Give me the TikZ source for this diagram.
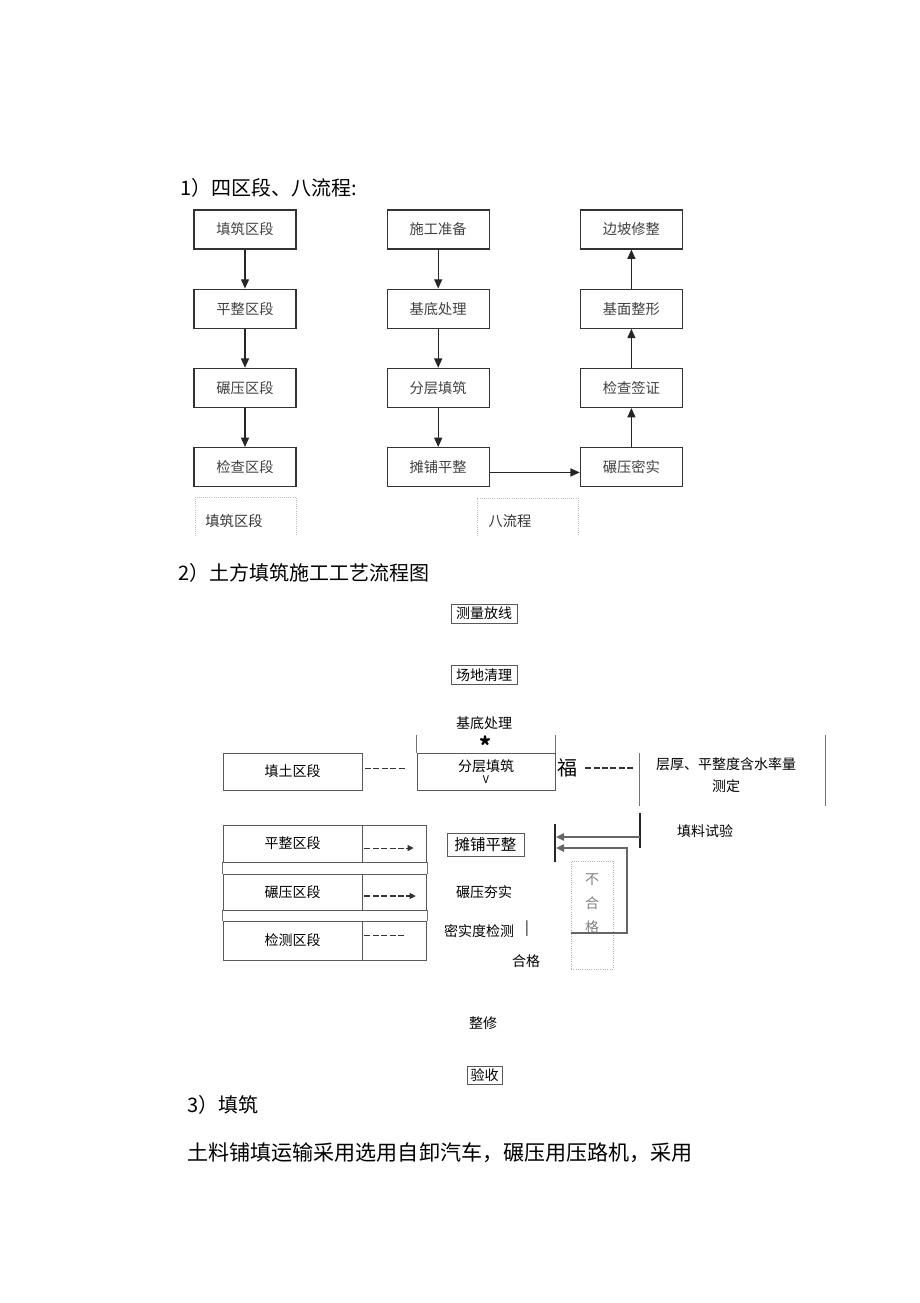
\documentclass[tikz,border=0pt]{standalone}
\usepackage{fontspec}
\setmainfont{Noto Sans CJK SC}
\usetikzlibrary{arrows.meta}
\usetikzlibrary{positioning}

\begin{document}
\begin{tikzpicture}[x=0.75pt, y=-0.75pt,
    stagebox/.style={draw=black!80, line width=0.9pt, minimum width=76.5pt, minimum height=29.25pt, inner sep=0pt, text=black!75, font=\fontsize{10.7pt}{12pt}\selectfont},
    capbox/.style={inner sep=0pt, text=black!80, font=\fontsize{10.7pt}{12pt}\selectfont},
    capframe/.style={draw=black!25, densely dotted, line width=0.6pt},
    flow/.style={draw=black!85, line width=1pt, -{Triangle[length=7pt, width=6pt]}},
    head/.style={anchor=west, inner sep=0pt, font=\fontsize{15pt}{18pt}\selectfont},
    small/.style={inner sep=0pt, font=\fontsize{10.5pt}{12pt}\selectfont},
    thinbox/.style={draw=black!65, line width=0.6pt, inner sep=0pt, font=\fontsize{10.5pt}{12pt}\selectfont},
    frameline/.style={draw=black!55, line width=0.6pt},
    dashline/.style={draw=black!80, line width=0.8pt, dash pattern=on 4.5pt off 1.8pt},
    feed/.style={draw=black!60, line width=1.1pt, -{Triangle[length=6pt, width=5.5pt]}},
    bar/.style={draw=black!85, line width=1.5pt},
    node distance=29.25pt and 67.5pt]
    \useasboundingbox (0,0) rectangle (920,1303);

    \node[head] (title1) at (180,188) {1）四区段、八流程:};
    \node[stagebox] (fillzone) at (245,229.5) {填筑区段};
    \node[stagebox, below=of fillzone] (flatzone) {平整区段};
    \node[stagebox, below=of flatzone] (rollzone) {碾压区段};
    \node[stagebox, below=of rollzone] (checkzone) {检查区段};
    \node[stagebox, right=of fillzone] (prep) {施工准备};
    \node[stagebox, below=of prep] (base) {基底处理};
    \node[stagebox, below=of base] (layer) {分层填筑};
    \node[stagebox, below=of layer] (spread) {摊铺平整};
    \node[stagebox, right=of prep] (slope) {边坡修整};
    \node[stagebox, below=of slope] (face) {基面整形};
    \node[stagebox, below=of face] (sign) {检查签证};
    \node[stagebox, below=of sign] (compact) {碾压密实};

    \draw[flow] (fillzone) -- (flatzone);
    \draw[flow] (flatzone) -- (rollzone);
    \draw[flow] (rollzone) -- (checkzone);
    \draw[flow] (prep) -- (base);
    \draw[flow] (base) -- (layer);
    \draw[flow] (layer) -- (spread);
    \draw[flow] ([yshift=-4pt]spread.east) -- ([yshift=-4pt]compact.west);
    \draw[flow] (compact) -- (sign);
    \draw[flow] (sign) -- (face);
    \draw[flow] (face) -- (slope);

    \node[capbox] (cap4) at (234,521) {填筑区段};
    \node[capbox] (cap8) at (510,521) {八流程};
    \draw[capframe] (195,536) |- (296,497) -- (296,536);
    \draw[capframe] (477,536) |- (578,498) -- (578,536);

    \node[head] (title2) at (178,573) {2）土方填筑施工工艺流程图};
    \node[thinbox, minimum width=49.5pt, minimum height=14.25pt] (survey) at (484,613.5) {测量放线};
    \node[thinbox, minimum width=49.5pt, minimum height=14.25pt] (clear) at (484,675) {场地清理};
    \node[small] (basetxt) at (484,723) {基底处理};
    \node[thinbox, minimum width=103.5pt, minimum height=27.75pt, align=center] (layerbox) at (486,771.5) {分层填筑\\[-3pt]{\fontsize{8pt}{8pt}\selectfont V}};
    \draw[frameline] (layerbox.north west) -- ++(0,-18) (layerbox.north east) -- ++(0,-18);
    \node[inner sep=0pt, font=\fontsize{17pt}{17pt}\selectfont\bfseries] (star) at (485,745) {*};
    \node[thinbox, minimum width=104.25pt, minimum height=27.75pt] (fillsoil) at (292.5,771.5) {填土区段};
    \draw[dashline, shorten <=2pt, shorten >=9pt] ([yshift=2.6pt]fillsoil.east) -- ([yshift=2.6pt]layerbox.west);
    \node[inner sep=0pt, font=\fontsize{15pt}{15pt}\selectfont] (fu) at (567,768) {福};
    \node[small, align=center] (measure) at (726,775) {层厚、平整度含水率量\\[5pt]测定};
    \coordinate (measl) at (639,768);
    \draw[dashline, shorten <=6pt, shorten >=3pt] (fu.east) -- (measl);
    \draw[frameline] (639,753) -- (639,806);
    \draw[frameline] (825,735) -- (825,806);

    \node[small] (trial) at (705,831) {填料试验};
    \draw[bar] (640,813) -- (640,848);
    \draw[bar] (555,824) -- (555,862);
    \coordinate (trialbar) at (640,837);
    \coordinate (stop1) at (556,837);
    \coordinate (stop2) at (556,848);
    \coordinate (bend) at (627,848);
    \coordinate (failcut) at (592,933);
    \node[draw=black!30, densely dotted, line width=0.7pt, minimum width=31.5pt, minimum height=81pt, inner sep=0pt] (fail) at (592,915) {};
    \node[inner sep=0pt, align=center, text=black!50, font=\fontsize{10.5pt}{18pt}\selectfont] (failtxt) at (592,904) {不\\合\\格};
    \draw[feed] (trialbar) -- (stop1);
    \draw[feed] (fail.west |- failcut) -| (bend) -- (stop2);

    \node[thinbox, minimum width=104.25pt, minimum height=27.75pt] (flatsec) at (292.5,843.5) {平整区段};
    \node[thinbox, minimum width=48pt, minimum height=27.75pt, right=0pt of flatsec] (flatcell) {};
    \node[thinbox, minimum width=104.25pt, minimum height=27pt] (rollsec) at (292.5,892) {碾压区段};
    \node[thinbox, minimum width=48pt, minimum height=27pt, right=0pt of rollsec] (rollcell) {};
    \node[thinbox, minimum width=104.25pt, minimum height=29.25pt] (testsec) at (292.5,940.5) {检测区段};
    \node[thinbox, minimum width=48pt, minimum height=29.25pt, right=0pt of testsec] (testcell) {};
    \draw[frameline] (flatsec.south west) -- (rollsec.north west) (flatcell.south east) -- (rollcell.north east);
    \draw[frameline] (rollsec.south west) -- (testsec.north west) (rollcell.south east) -- (testcell.north east);

    \node[thinbox, minimum width=57.75pt, minimum height=17.25pt, font=\fontsize{11.6pt}{13pt}\selectfont] (spread2) at (485.5,844.5) {摊铺平整};
    \node[small] (ram) at (484,892) {碾压夯实};
    \node[small] (density) at (479,931) {密实度检测};
    \node[small] (tick) at (527,929) {|};
    \node[small] (pass) at (526,961) {合格};
    \node[small] (repair) at (483,1023) {整修};
    \node[thinbox, minimum width=26.25pt, minimum height=13.5pt] (accept) at (484.5,1075) {验收};

    \draw[dashline, -{Triangle[length=4.5pt, width=4.5pt]}, shorten <=1.5pt, shorten >=24.75pt] ([yshift=-3.4pt]flatsec.east) -- ([yshift=-3.4pt]flatsec.east -| spread2.west);
    \draw[dashline, -{Triangle[length=4.5pt, width=4.5pt]}, shorten <=1.5pt, shorten >=30pt] ([yshift=-3pt]rollsec.east) -- ([yshift=-3pt]rollsec.east -| ram.west);
    \draw[dashline, shorten <=1.5pt, shorten >=28.5pt] ([yshift=4pt]testsec.east) -- ([yshift=4pt]testsec.east -| density.west);

    \node[head] (title3) at (187,1105) {3）填筑};
    \node[anchor=west, inner sep=0pt, font=\fontsize{15.8pt}{18pt}\selectfont] (para) at (187,1153) {土料铺填运输采用选用自卸汽车，碾压用压路机，采用};
\end{tikzpicture}
\end{document}
